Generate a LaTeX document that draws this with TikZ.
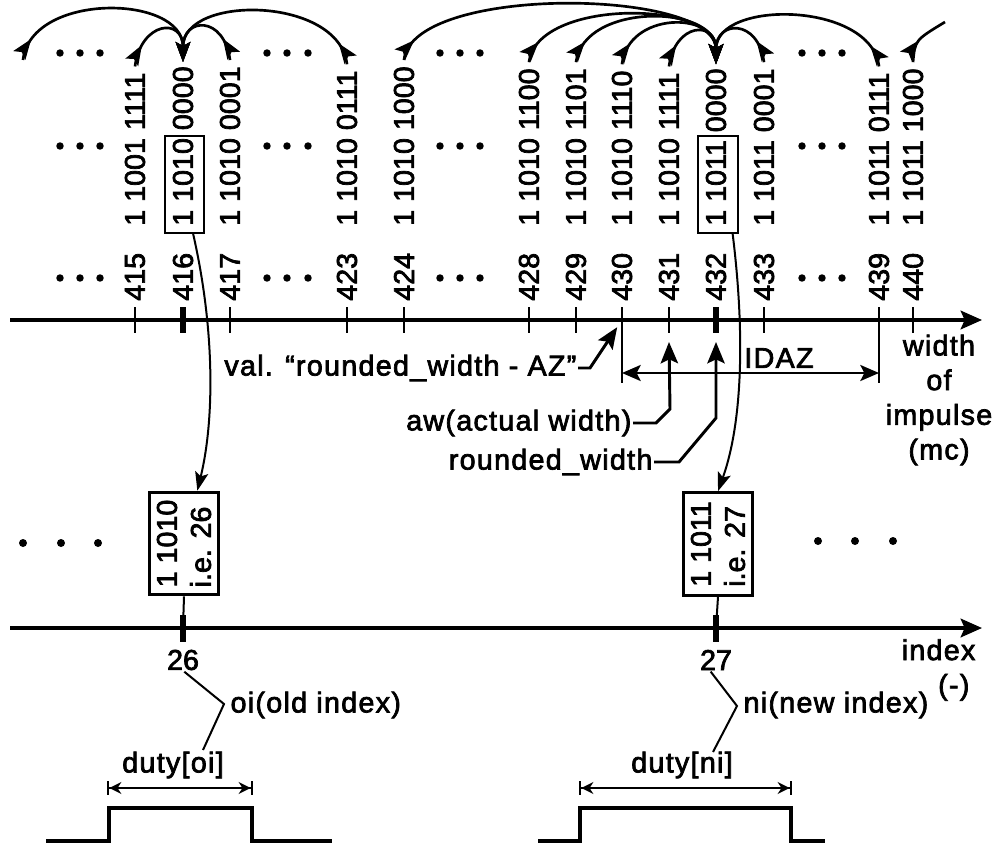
\documentclass[tikz,border=0pt]{standalone}
\usepackage{fontspec}
\setmainfont{Liberation Sans}[FakeBold=2.5]
\newfontfamily\spacedfont{Liberation Sans}[LetterSpace=4.5,FakeBold=2.5]
\usetikzlibrary{arrows.meta,decorations.markings,fit}

\newcommand{\figfont}{\fontsize{21.5}{25.5}\selectfont}

\tikzset{
  axisline/.style={line width=2.6pt, -{Stealth[length=16pt,width=14pt,inset=3pt]}},
  smalltick/.style={line width=1.5pt},
  bigtick/.style={line width=4.5pt},
  num/.style={rotate=90, anchor=west, inner sep=0pt},
  bits/.style={rotate=90, anchor=west, inner sep=0pt},
  bitbox/.style={draw, line width=1.5pt, inner sep=0pt},
  idxbox/.style={draw, line width=2.2pt, rotate=90, align=left, minimum width=77pt, minimum height=52pt, inner sep=0pt},
  midarrow/.style={postaction={decorate}, decoration={markings, mark=at position 17pt with {\arrow{Stealth[length=15pt,width=11pt,inset=3pt]}}}},
  jump/.style={line width=2pt, midarrow, -{Stealth[length=15pt,width=11pt,inset=3pt]}},
  link/.style={line width=1.5pt, -{Stealth[length=14pt,width=10pt,inset=3pt]}},
  leader/.style={line width=2.2pt, -{Stealth[length=16pt,width=13pt,inset=3pt]}},
  thinleader/.style={line width=1.5pt},
  idazline/.style={line width=1.8pt, {Stealth[length=14pt,width=12pt,inset=3pt]}-{Stealth[length=14pt,width=12pt,inset=3pt]}},
  dimline/.style={line width=1.8pt, {Bar[width=10pt]Stealth[length=9pt,width=9pt]}-{Stealth[length=9pt,width=9pt]Bar[width=10pt]}},
  pulse/.style={line width=3pt},
  lbl/.style={font=\spacedfont\fontsize{21.5}{26}\selectfont, inner sep=1pt},
}

\begin{document}
\begin{tikzpicture}[x=0.75pt, y=-0.75pt, font=\figfont]
    \useasboundingbox (0,0) rectangle (996,845);

    % width axis
    \coordinate (axL) at (10,320);
    \coordinate (axR) at (982,320);
    \draw[axisline] (axL) -- (axR);

    \foreach \n/\x/\b in {415/135/1 1001 1111, 416/183/1 1010 0000, 417/230/1 1010 0001, 423/347/1 1010 0111, 424/404/1 1010 1000, 428/529/1 1010 1100, 429/576/1 1010 1101, 430/622/1 1010 1110, 431/669/1 1010 1111, 432/716/1 1011 0000, 433/764/1 1011 0001, 439/879/1 1011 0111, 440/913/1 1011 1000}{
        \coordinate (t\n) at (\x,320);
        \draw[smalltick] (\x,307) -- (\x,333);
        \node[num] (n\n) at (\x,301) {\n};
        \node[bits] (b\n) at (\x,226) {\b};
    }
    \draw[bigtick] ([yshift=9.75pt]t416) -- ([yshift=-9.75pt]t416);
    \draw[bigtick] ([yshift=9.75pt]t432) -- ([yshift=-9.75pt]t432);

    \node[bitbox, fit={(165,136) (204,233)}] (box416) {};
    \node[bitbox, fit={(698,136) (738,233)}] (box432) {};

    \foreach \x in {60,80,100,267,287,308,440,460,480,802,822,842}
        \foreach \y in {53,146,278}
            \fill (\x,\y) circle[radius=2.8pt];

    % jumps to the rounded value
    \coordinate (c408) at (23,60);
    \coordinate (c441) at (945,22);
    \draw[jump] (c408) .. controls +(8,-68) and +(0,-68) .. ([yshift=3pt]b416.east);
    \foreach \s/\e/\d/\h in {415/416/6/45, 417/416/-6/45, 423/416/-8/68, 424/432/8/76, 428/432/8/64, 429/432/8/60, 430/432/6/53, 431/432/6/44, 433/432/-6/44, 439/432/-8/65}
        \draw[jump] ([yshift=4.5pt]b\s.east) .. controls +(\d,-\h) and +(0,-\h) .. ([yshift=3pt]b\e.east);
    \draw[line width=2pt, midarrow] ([yshift=4.5pt]b440.east) .. controls +(2,-22) .. (c441);

    % IDAZ
    \coordinate (idazL) at (622,383);
    \coordinate (idazR) at (879,383);
    \coordinate (idazA) at (622,373);
    \coordinate (idazB) at (879,373);
    \draw[smalltick] (t430) -- (idazL);
    \draw[smalltick] (t439) -- (idazR);
    \draw[idazline] (idazA) -- (idazB);
    \node[lbl] (idaz) at (779,358) {IDAZ};
    \node[lbl, align=center] (wimp) at (939,400) {width\\of\\impulse\\(mc)};

    % leaders
    \node[lbl, anchor=east] (val) at (578,368) {val. “rounded\_width - AZ”};
    \coordinate (valk) at (590,368);
    \draw[leader, shorten >=6.5pt] (val.east) -- (valk) -- (t430);
    \node[lbl, anchor=east] (aw) at (633,423) {aw(actual width)};
    \coordinate (awk) at (656,423);
    \coordinate (awv) at (670,409);
    \draw[leader] (aw.east) -- (awk) -- (awv) -- ([yshift=-16.5pt]t431);
    \node[lbl, anchor=east] (rw) at (654,462) {rounded\_width};
    \coordinate (rwk) at (679,462);
    \coordinate (rwv) at (716,418);
    \draw[leader] (rw.east) -- (rwk) -- (rwv) -- ([yshift=-16.5pt]t432);

    % index axis
    \coordinate (ixL) at (10,628);
    \coordinate (ixR) at (982,628);
    \draw[axisline] (ixL) -- (ixR);
    \coordinate (i26) at (183,628);
    \coordinate (i27) at (716,628);
    \node[idxbox] (box26) at (184,543.5) {1 1010\\i.e. 26};
    \node[idxbox] (box27) at (718,544) {1 1011\\i.e. 27};
    \draw[smalltick] (box26.west) -- (i26);
    \draw[smalltick] (box27.west) -- (i27);
    \draw[bigtick] ([yshift=9.75pt]i26) -- ([yshift=-10.5pt]i26);
    \draw[bigtick] ([yshift=9.75pt]i27) -- ([yshift=-10.5pt]i27);
    \foreach \x in {23,61,98} \fill (\x,543) circle[radius=3pt];
    \foreach \x in {818,855,893} \fill (\x,541) circle[radius=3pt];

    \draw[link] ([xshift=6.5pt]box416.south) .. controls +(22,97) and +(17,-70) .. ([xshift=10pt]box26.east);
    \draw[link] ([xshift=11pt]box432.south) .. controls +(12,97) and +(25,-70) .. (box27.east);

    \node[inner sep=1pt] (lbl26) at (183,660) {26};
    \node[inner sep=1pt] (lbl27) at (716,660) {27};
    \node[lbl, align=right, anchor=east] (index) at (977,670) {index\\(-)\kern4.5pt};

    \node[lbl, anchor=west] (oi) at (229,705) {oi(old index)};
    \node[lbl, anchor=west] (ni) at (742,705) {ni(new index)};
    \node[lbl] (dutyoi) at (173,765) {duty[oi]};
    \node[lbl] (dutyni) at (682,765) {duty[ni]};
    \coordinate (oik) at (224,704);
    \coordinate (oiend) at (203,750);
    \coordinate (nik) at (737,706);
    \coordinate (niend) at (713,752);
    \draw[thinleader] ([xshift=1pt]lbl26.south) -- (oik) -- (oiend);
    \draw[thinleader] ([xshift=-4pt]lbl27.south) -- (nik) -- (niend);

    % duty
    \coordinate (doiA) at (107,788);
    \coordinate (doiB) at (253,788);
    \coordinate (dniA) at (579,788);
    \coordinate (dniB) at (792,788);
    \draw[dimline] (doiA) -- (doiB);
    \draw[dimline] (dniA) -- (dniB);
    \draw[pulse] (46,841) -- (109,841) -- (109,808) -- (252,808) -- (252,841) -- (332,841);
    \draw[pulse] (538,841) -- (580,841) -- (580,808) -- (791,808) -- (791,841) -- (825,841);
\end{tikzpicture}
\end{document}
